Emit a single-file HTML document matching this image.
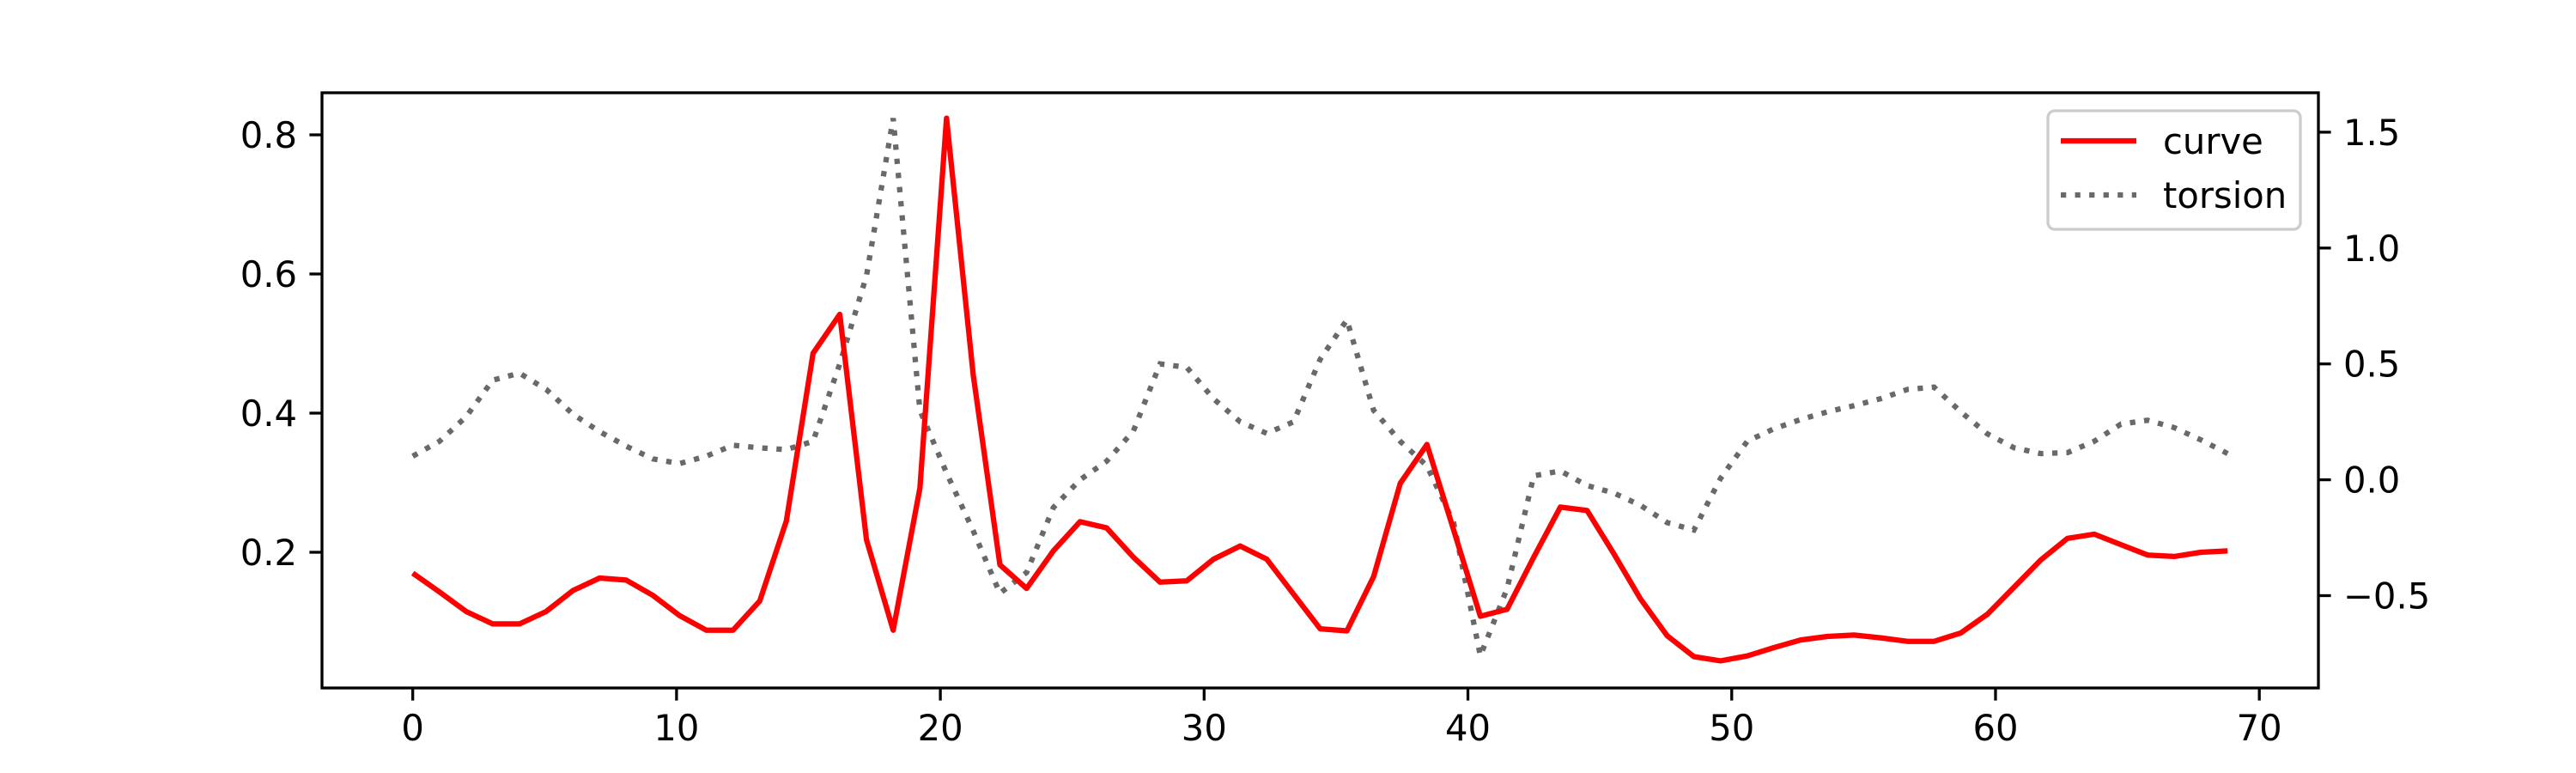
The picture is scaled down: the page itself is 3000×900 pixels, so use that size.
<!DOCTYPE html>
<html><head><meta charset="utf-8"><style>html,body{margin:0;padding:0;background:#fff}svg{display:block}</style></head>
<body>
<svg id="chart" width="3000" height="900" xmlns="http://www.w3.org/2000/svg" font-family="DejaVu Sans, Liberation Sans, sans-serif" font-size="41.7">
<rect x="0" y="0" width="3000" height="900" fill="#fff"/>
<g id="plot"></g>
</svg>
<script>
const curveValues=[0.17,0.143,0.115,0.097,0.097,0.115,0.145,0.163,0.16,0.138,0.109,0.088,0.088,0.13,0.245,0.486,0.542,0.218,0.088,0.292,0.824,0.455,0.182,0.148,0.202,0.244,0.235,0.193,0.157,0.159,0.19,0.209,0.19,0.14,0.09,0.087,0.165,0.299,0.355,0.232,0.108,0.118,0.193,0.265,0.26,0.198,0.133,0.08,0.05,0.044,0.051,0.063,0.074,0.079,0.081,0.077,0.072,0.072,0.084,0.111,0.15,0.189,0.22,0.226,0.211,0.196,0.194,0.2,0.202];
const torsionValues=[0.102,0.166,0.272,0.43,0.46,0.39,0.283,0.208,0.145,0.09,0.07,0.102,0.149,0.138,0.13,0.166,0.5,0.88,1.56,0.30,0.03,-0.22,-0.49,-0.40,-0.12,0.0,0.08,0.21,0.5,0.485,0.35,0.25,0.2,0.25,0.52,0.69,0.30,0.166,0.06,-0.185,-0.76,-0.47,0.017,0.038,-0.025,-0.057,-0.11,-0.185,-0.217,0.006,0.166,0.22,0.26,0.293,0.32,0.35,0.39,0.40,0.293,0.198,0.138,0.113,0.117,0.166,0.24,0.257,0.225,0.172,0.113];
const xMax=68.8;
const xTicks=[0,10,20,30,40,50,60,70];
const xTickLabels=["0","10","20","30","40","50","60","70"];
const yLeftTicks=[0.2,0.4,0.6,0.8];
const yLeftLabels=["0.2","0.4","0.6","0.8"];
const yRightTicks=[-0.5,0,0.5,1.0,1.5];
const yRightLabels=["\u22120.5","0.0","0.5","1.0","1.5"];

const L=375,R=2700,T=108,B=801;
const NS="http://www.w3.org/2000/svg";
const g=document.getElementById('plot');
const xMin=-xMax*0.05, xMaxA=xMax*1.05;
function xs(v){return L+(v-xMin)/(xMaxA-xMin)*(R-L);}
function yl(v){return 643-(v-0.2)*810;}
function yr(v){return 693.5-(v+0.5)*269.8;}
function mk(tag,attrs){const e=document.createElementNS(NS,tag);for(const k in attrs)e.setAttribute(k,attrs[k]);g.appendChild(e);return e;}
const n=curveValues.length;
function xAt(i){return xs(i*xMax/(n-1));}

let pc=curveValues.map((v,i)=>xAt(i).toFixed(1)+','+yl(v).toFixed(1)).join(' ');
let pt=torsionValues.map((v,i)=>xAt(i).toFixed(1)+','+yr(v).toFixed(1)).join(' ');
const tl=mk('polyline',{points:pt,fill:'none',stroke:'#696969','stroke-width':6.25,'stroke-dasharray':'6.25 10.3'});


const cl=mk('polyline',{points:pc,fill:'none',stroke:'#ff0000','stroke-width':6.25,'stroke-linejoin':'round'});



const fr=mk('rect',{x:L,y:T,width:R-L,height:B-T,fill:'none',stroke:'#000','stroke-width':3.3});



xTicks.forEach((v,i)=>{const x=xs(v);
 const t=mk('line',{x1:x,x2:x,y1:B,y2:B+14.6,stroke:'#000','stroke-width':3.3});
 
 
 const tx=mk('text',{x:x,y:862,'text-anchor':'middle',fill:'#000'});tx.textContent=xTickLabels[i];
 
 
});
yLeftTicks.forEach((v,i)=>{const y=yl(v);
 const t=mk('line',{x1:L-14.6,x2:L,y1:y,y2:y,stroke:'#000','stroke-width':3.3});
 
 
 const tx=mk('text',{x:346,y:y+15,'text-anchor':'end',fill:'#000'});tx.textContent=yLeftLabels[i];
 
 
});
yRightTicks.forEach((v,i)=>{const y=yr(v);
 const t=mk('line',{x1:R,x2:R+14.6,y1:y,y2:y,stroke:'#000','stroke-width':3.3});
 
 
 const tx=mk('text',{x:2729,y:y+15,'text-anchor':'start',fill:'#000'});tx.textContent=yRightLabels[i];
 
 
});

const lg=mk('rect',{x:2385,y:129,width:294,height:138,rx:8,fill:'#fff','fill-opacity':0.8,stroke:'#cccccc','stroke-width':3.3});


const l1=mk('line',{x1:2400,x2:2488,y1:164,y2:164,stroke:'#ff0000','stroke-width':6.25});


const t1=mk('text',{x:2519,y:179,fill:'#000'});t1.textContent='curve';


const l2=mk('line',{x1:2400,x2:2488,y1:227,y2:227,stroke:'#696969','stroke-width':6.25,'stroke-dasharray':'6.25 10.3'});


const t2=mk('text',{x:2519,y:242,fill:'#000'});t2.textContent='torsion';


</script>
</body></html>
